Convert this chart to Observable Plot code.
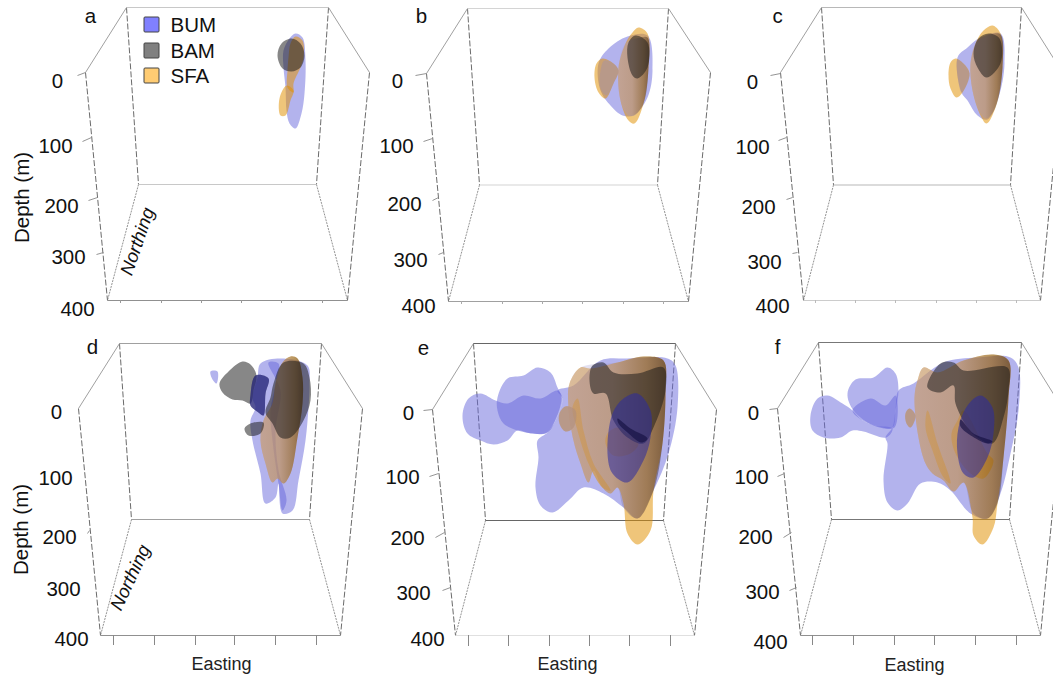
<!DOCTYPE html>
<html><head><meta charset="utf-8">
<style>html,body{margin:0;padding:0;background:#fff;overflow:hidden}svg{display:block}</style>
<script src="https://cdn.jsdelivr.net/npm/d3@7"></script>
<script src="https://cdn.jsdelivr.net/npm/@observablehq/plot@0.6"></script>
</head><body><div id="chart"></div>
<script>
const panels = ["a","b","c","d","e","f"];
const depthLabels = ["0","100","200","300","400"];
const speciesNames = ["BUM","BAM","SFA"];
const speciesFill = ["#8080ff","#808080","#ffcc73"];
const legendTop = [17,43,68];

// frame corners: back-top L,R; back-bottom L,R; front-bottom L,R; front-top L,R
const frameA = [[126,7],[328,7],[138,184],[316,184],[107,300],[347,300],[85,72],[369,72]];
const frameB = [[467,8],[668,8],[479,184.5],[657,184.5],[448,301],[688,301],[426,73],[710,72]];
const frameC = [[821,7],[1021,7],[833,184.5],[1010,184.5],[803,300],[1040,300],[780,72],[1062,72]];
const frameD = [[119,343],[321,343],[131,519],[309,519],[100,635],[340,635],[78,408],[362,408]];
const frameE = [[473,343],[675,343],[485,520],[663,520],[455,635],[694,635],[432,409],[716,409]];
const frameF = [[818,342],[1021,342],[831,519],[1009,519],[800,635],[1040,635],[777,408],[1062,408]];
const frames = [frameA,frameB,frameC,frameD,frameE,frameF];
const backColor = ["#c8c8c8","#d4d4d4","#b8b8b8","#a0a0a0","#666666","#777777"];
const frontColor = ["#909090","#a0a0a0","#cccccc","#909090","#e0e0e0","#909090"];

// depth tick label centres
const labelX = [[57,55,61,68,77],[397,396,404,410,418],[752,752,758,764,772],[56,55,59,63,71],[408,402,407,413,427],[753,751,755,762,770]];
const labelY = [[81,146,206,257,309],[81,146,204,260,306],[82,147,207,262,306],[412,478,537,589,639],[413,477,538,593,639],[413,477,537,592,642]];
// depth tick strokes: x1,y1,x2,y2 per depth 0..300
const depthTicksA = [[77,75,85,72],[82,141,91,137],[88,200,97,197],[96,254,103,252]];
const depthTicksB = [[415,75,426,73],[423,141,432,138],[432,200,438,197],[438,254,443,252]];
const depthTicksC = [[770,75,780,73],[778,140,786,137],[786,199,792,197],[792,253,797,252]];
const depthTicksD = [[87,533,89,530]];
const depthTicksE = [[423,410,432,409],[429,476,438,473],[435,537,444,532],[442,590,450,587]];
const depthTicksF = [[769,409,777,408],[777,476,784,473],[783,537,791,532],[789,590,796,587]];
const depthTicks = [depthTicksA,depthTicksB,depthTicksC,depthTicksD,depthTicksE,depthTicksF];
// easting ticks
const eastTicks = [[120,161,201,241,281,322],[461,502,542,582,623,663],[815,855,895,936,976,1016],[113,154,195,234,275,316],[468,508,549,589,629,670],[812,853,894,934,975,1016]];
const eastBase = [300,301,300,635,635,635];
const eastLen = [3,3,3,10,11,10];
const eastShade = ["#999","#aaa","#bbb","#888","#888","#888"];

const letterX = [90,421,777,92,423,777];
const letterY = [16,16,16,347,348,347];
const eastingLabelX = [221,567,914];
const eastingLabelY = [664,664,665];
const eastingText = ["Easting","Easting","Easting"];
const northingX = [137,130];
const northingY = [241,577];
const northingAngle = [-71,-65];
const depthTitleX = [22,21];
const depthTitleY = [197,529];
const depthTitleText = ["Depth (m)","Depth (m)"];

// SFA outlines
const a_SFA1 = [[295,36],[302,40],[303,57],[300,67],[293,83],[293,92],[287,87],[287,70],[288,57],[290,43]];
const a_SFA2 = [[286,85],[293,90],[290,100],[285,115],[280,115],[279,98]];
const b_SFA1 = [[638,27],[647,33],[648,67],[643,103],[634,123],[628,120],[620,100],[618,67],[625,43],[632,32]];
const b_SFA2 = [[602,58],[613,63],[618,70],[613,83],[605,98],[598,92],[594,77],[596,63]];
const c_SFA1 = [[992,25],[1000,33],[1002,67],[995,107],[986,123],[980,115],[972,90],[970,63],[975,43],[983,30]];
const c_SFA2 = [[955,58],[963,63],[969,73],[962,92],[956,97],[950,88],[948,75],[950,62]];
const d_SFA1 = [[290,356],[297,358],[302,377],[302,403],[297,437],[290,473],[283,483],[277,478],[272,482],[265,463],[260,440],[263,420],[272,403],[275,383],[282,362]];
const e_SFA1 = [[580,367],[590,368],[617,362],[643,356],[663,360],[665,390],[662,443],[653,490],[650,530],[637,544],[627,533],[623,503],[617,487],[610,493],[602,487],[593,470],[588,482],[580,463],[573,440],[568,407],[569,383]];
const e_SFA2 = [[565,406],[575,410],[573,427],[565,431],[559,423],[559,413]];
const e_SFA3 = [[577,398],[583,430],[593,463],[610,490],[602,487],[588,463],[577,430],[572,407]];
const e_SFA4 = [[617,427],[627,433],[638,443],[630,453],[613,455],[605,443],[607,433]];
const f_SFA1 = [[923,367],[937,372],[963,360],[993,354],[1008,360],[1008,397],[1003,457],[997,503],[993,527],[982,544],[973,535],[972,517],[963,482],[953,491],[943,480],[932,473],[925,463],[918,437],[914,397],[917,380]];
const f_SFA2 = [[909,408],[915,415],[910,427],[906,423],[905,413]];
const f_SFA3 = [[927,410],[937,443],[950,483],[943,477],[932,450],[925,427]];
const f_SFA4 = [[963,410],[987,453],[993,460],[983,478],[970,473],[955,453],[951,433],[957,420]];
// flanks where SFA and BUM overlap: lilac on the lit side, dark on the far side
const b_SHADE = [[640,37],[647,37],[648,67],[643,103],[634,115],[628,115],[620,100],[618,67],[625,43]];
const c_SHADE = [[990,34],[1000,34],[1002,67],[995,107],[986,118],[980,113],[972,90],[970,63],[975,43]];
const b_LOBE = [[604,60],[613,63],[618,70],[613,83],[606,95],[600,88],[600,70]];
const c_LOBE = [[957,59],[969,73],[961,92]];
const e_SHADE = [[580,367],[617,362],[643,356],[663,360],[665,390],[662,443],[653,490],[637,518],[623,507],[617,487],[610,493],[602,487],[593,470],[588,482],[580,463],[573,440],[568,407],[569,383]];
const f_SHADE = [[923,367],[937,372],[963,360],[993,354],[1008,360],[1008,397],[1003,457],[997,503],[987,518],[973,513],[963,482],[953,491],[943,480],[932,473],[925,463],[918,437],[914,397],[917,380]];
// BUM outlines
const a_BUM1 = [[295,33],[302,37],[305,60],[304,93],[301,113],[295,128],[289,123],[286,110],[285,87],[283,67],[283,50],[289,38]];
const b_BUM1 = [[627,36],[647,35],[652,70],[647,97],[633,115],[622,115],[610,105],[600,90],[598,63],[608,48]];
const c_BUM1 = [[980,37],[1000,33],[1004,63],[998,97],[987,119],[977,115],[967,100],[961,92],[957,57],[967,47]];
const d_BUM1 = [[260,363],[280,358],[307,365],[309,383],[308,407],[305,440],[298,480],[292,510],[282,513],[278,483],[275,497],[265,503],[260,473],[252,440],[250,420],[255,407],[252,397],[257,377]];
const d_BUM2 = [[210,371],[217,371],[216,383],[212,379]];
const d_BUM3 = [[268,362],[278,363],[275,385],[270,410],[272,440],[278,483],[282,510],[286,500],[278,470],[275,430],[280,390]];
const e_BUM1 = [[462,415],[468,398],[480,393],[495,400],[507,403],[523,395],[540,398],[557,390],[562,398],[555,420],[547,432],[530,433],[517,430],[507,440],[493,444],[480,440],[467,433]];
const e_BUM2 = [[497,397],[507,378],[523,375],[537,367],[550,372],[557,387],[561,398],[553,423],[545,433],[533,433],[517,430],[503,423],[497,410]];
const e_BUM3 = [[557,390],[573,385],[600,360],[627,358],[667,358],[675,365],[677,407],[668,453],[653,490],[637,518],[623,507],[603,493],[583,487],[568,500],[552,512],[540,505],[535,487],[538,457],[537,440],[547,432],[555,420],[562,398]];
const f_BUM1 = [[810,415],[817,398],[827,395],[842,403],[852,410],[862,420],[875,425],[892,428],[886,437],[863,431],[852,430],[840,437],[823,437],[812,430]];
const f_BUM2 = [[847,393],[855,379],[873,377],[887,367],[895,373],[898,390],[895,410],[892,427],[873,425],[853,410]];
const f_BUM3 = [[852,410],[870,398],[885,405],[895,395],[894,427],[875,425],[862,420]];
const f_BUM4 = [[898,390],[913,383],[943,362],[977,357],[1010,357],[1018,367],[1018,410],[1010,453],[1000,493],[987,518],[970,513],[950,490],[937,482],[920,483],[907,503],[897,510],[887,502],[883,480],[887,443],[885,437],[892,427],[895,410]];
// BAM outlines
const a_BAM1 = [[291,38],[300,43],[304,55],[300,67],[291,71],[282,68],[277,55],[281,43]];
const b_BAM1 = [[635,35],[647,42],[647,67],[637,78],[632,75],[627,57],[628,42]];
const c_BAM1 = [[988,33],[999,38],[1000,63],[986,77],[977,67],[973,53],[978,38]];
const d_BAM1 = [[242,361],[250,364],[256,375],[253,390],[250,403],[242,400],[232,399],[222,392],[219,383],[228,371]];
const d_BAM2 = [[255,375],[268,378],[265,393],[263,415],[258,412],[250,405],[250,395]];
const d_BAM3 = [[263,422],[260,433],[248,435],[244,428],[250,423]];
const d_BAM4 = [[283,362],[303,363],[309,377],[310,400],[303,420],[290,437],[280,437],[272,423],[265,412],[270,397],[273,383]];
const e_BAM1 = [[592,365],[603,362],[613,372],[637,373],[663,367],[665,390],[653,427],[643,443],[627,437],[613,420],[605,393],[593,393],[589,380]];
const f_BAM1 = [[927,387],[940,363],[953,362],[963,370],[1007,367],[1008,390],[1003,417],[992,443],[977,437],[967,427],[955,403],[953,385],[940,392]];
// inner deep bodies
const e_DEEP1 = [[637,393],[650,410],[650,437],[643,460],[627,482],[612,473],[607,453],[612,413],[623,398]];
const f_DEEP1 = [[980,395],[992,407],[993,433],[987,457],[973,477],[963,473],[957,453],[958,427],[967,405]];
// thin dark slivers
const e_SLIVER = [[617,418],[630,428],[647,438],[641,442],[627,432],[618,423]];
const f_SLIVER = [[960,419],[973,433],[992,441],[987,443],[972,436],[960,426]];

const rows = list => list.flatMap((pts,i)=>pts.map(([x,y])=>({id:i,x,y})));
const bumRows = rows([a_BUM1,b_BUM1,c_BUM1,d_BUM1,d_BUM2,d_BUM3,e_BUM1,e_BUM2,e_BUM3,f_BUM1,f_BUM2,f_BUM3,f_BUM4]);
const sfaRows = rows([a_SFA1,a_SFA2,b_SFA1,b_SFA2,c_SFA1,c_SFA2,d_SFA1,e_SFA1,e_SFA2,e_SFA3,e_SFA4,f_SFA1,f_SFA2,f_SFA3,f_SFA4]);
const shadeRows = rows([b_SHADE,c_SHADE,d_SFA1,e_SHADE,f_SHADE]);
const tintRows = rows([b_LOBE,c_LOBE,e_SFA2,f_SFA2]);
const bamRows = rows([a_BAM1,b_BAM1,c_BAM1,d_BAM1,d_BAM2,d_BAM3,d_BAM4,e_BAM1,f_BAM1]);
const deepRows = rows([d_BAM2,e_DEEP1,f_DEEP1]);
const sliverRows = rows([e_SLIVER,f_SLIVER]);

const edge = (c,i,j,k) => ({x1:c[i][0],y1:c[i][1],x2:c[j][0],y2:c[j][1],k});
const solidDiag = frames.flatMap(c=>[edge(c,6,0),edge(c,7,1)]);
const dashEdges = frames.flatMap(c=>[edge(c,0,2),edge(c,1,3),edge(c,6,4),edge(c,7,5)]);
const floorEdges = frames.flatMap(c=>[edge(c,2,4),edge(c,3,5)]);
const backEdges = frames.flatMap((c,i)=>[edge(c,0,1,backColor[i]),edge(c,2,3,backColor[i])]);
const frontEdges = frames.map((c,i)=>edge(c,4,5,frontColor[i]));
const depthTickRows = depthTicks.flat().map(([x1,y1,x2,y2])=>({x1,y1,x2,y2}));
const eastRows = eastTicks.flatMap((t,i)=>t.map(x=>({x,y1:eastBase[i],y2:eastBase[i]+eastLen[i],c:eastShade[i]})));
const depthLabelRows = labelX.flatMap((xs,i)=>xs.map((x,j)=>({x,y:labelY[i][j],t:depthLabels[j]})));
const letterRows = panels.map((t,i)=>({t,x:letterX[i],y:letterY[i]}));
const font = "Liberation Sans, Arial, sans-serif";
const blob = (data,fill,fillOpacity) => Plot.line(data,{x:"x",y:"y",z:"id",curve:"catmull-rom-closed",fill,fillOpacity,stroke:"none"});
const link = (data,o) => Plot.link(data,{x1:"x1",y1:"y1",x2:"x2",y2:"y2",...o});

const defs = () => {
  const d = d3.create("svg:defs");
  const g = d.append("linearGradient").attr("id","shade").attr("x1","0").attr("x2","1").attr("y1","0").attr("y2","0");
  [["#b0a8e0",0.32,0],["#9a90c0",0.3,0.45],["#3a2418",0.3,0.8],["#2a1608",0.5,1]].forEach(([c,a,o])=>g.append("stop").attr("offset",o).attr("stop-color",c).attr("stop-opacity",a));
  return d.node();
};

const chart = Plot.plot({
  width:1053,height:676,margin:0,
  x:{domain:[0,1053],range:[0,1053],axis:null},
  y:{domain:[0,676],range:[0,676],axis:null},
  style:{fontFamily:font,background:"#fff"},
  marks:[
    defs,
    link(dashEdges,{stroke:"#444",strokeWidth:0.8,strokeDasharray:"6 2"}),
    link(floorEdges,{stroke:"#777",strokeWidth:0.8,strokeDasharray:"2 1"}),
    link(solidDiag,{stroke:"#a0a0a0",strokeWidth:1}),
    link(backEdges,{stroke:"k",strokeWidth:1.2}),
    link(frontEdges,{stroke:"k",strokeWidth:1}),
    link(depthTickRows,{stroke:"#888",strokeWidth:0.9}),
    Plot.ruleX(eastRows,{x:"x",y1:"y1",y2:"y2",stroke:"c",strokeWidth:1}),
    blob(bumRows,"#6868dc",0.5),
    blob(sfaRows,"#e19000",0.52),
    blob(shadeRows,"url(#shade)",1),
    blob(tintRows,"#9088c0",0.3),
    blob(bamRows,"#181818",0.52),
    blob(deepRows,"#2a2aa0",0.55),
    blob(sliverRows,"#141040",0.65),
    Plot.text(depthLabelRows,{x:"x",y:"y",text:"t",fontSize:20.5,fill:"#111",fontFamily:font}),
    Plot.text(letterRows,{x:"x",y:"y",text:"t",fontSize:20.5,fill:"#111",fontFamily:font}),
    Plot.text(depthTitleText,{x:depthTitleX,y:depthTitleY,text:d=>d,rotate:-90,fontSize:20.5,fill:"#111",fontFamily:font}),
    Plot.text(["Northing"],{x:[northingX[0]],y:[northingY[0]],text:d=>d,rotate:northingAngle[0],fontSize:18.5,fontStyle:"italic",fill:"#111",fontFamily:font}),
    Plot.text(["Northing"],{x:[northingX[1]],y:[northingY[1]],text:d=>d,rotate:northingAngle[1],fontSize:18.5,fontStyle:"italic",fill:"#111",fontFamily:font}),
    Plot.text(eastingText,{x:eastingLabelX,y:eastingLabelY,text:d=>d,fontSize:18,fill:"#222",fontFamily:font}),
    Plot.rect(speciesNames,{x1:()=>144,x2:()=>159,y1:(d,i)=>legendTop[i],y2:(d,i)=>legendTop[i]+15,fill:(d,i)=>speciesFill[i],stroke:"#444",strokeWidth:1,rx:1}),
    Plot.text(speciesNames,{x:()=>170,y:(d,i)=>legendTop[i]+8,text:d=>d,textAnchor:"start",fontSize:20.5,fill:"#111",fontFamily:font})
  ]
});
document.getElementById("chart").appendChild(chart);
</script></body></html>
